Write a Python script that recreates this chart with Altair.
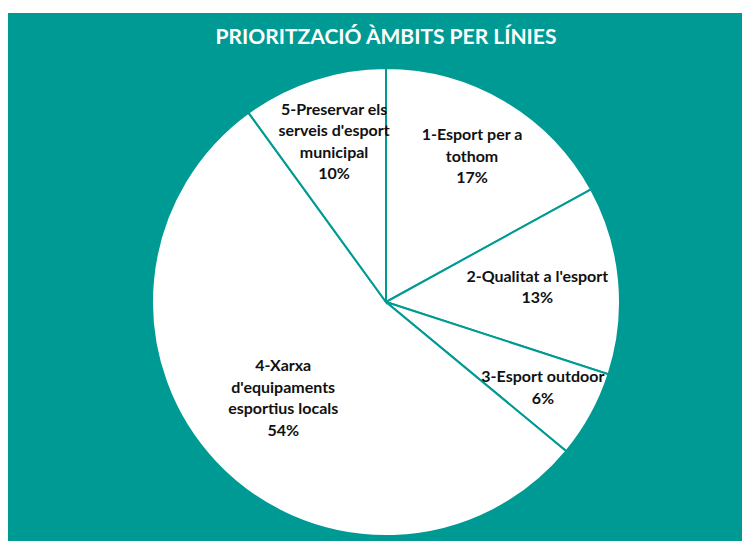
import altair as alt
import pandas as pd
import math

# ---- data ----
labels = [
    "1-Esport per a\ntothom",
    "2-Qualitat a l'esport",
    "3-Esport outdoor",
    "4-Xarxa\nd'equipaments\nesportius locals",
    "5-Preservar els\nserveis d'esport\nmunicipal",
]
values = [17, 13, 6, 54, 10]
title_text = "PRIORITZACIÓ ÀMBITS PER LÍNIES"

# ---- layout (not data) ----
label_radius = [169, 152, 179, 141, 168]
TEAL = "#009A94"
CX, CY, R = 378, 289, 234
LH = 21.5

df = pd.DataFrame({
    "label": labels,
    "value": values,
    "idx": list(range(len(labels))),
    "r": label_radius,
})
df["text"] = df["label"] + "\n" + df["value"].astype(str) + "%"
df["nlines"] = df["text"].str.count("\n") + 1

theta_scale = alt.Scale(domain=[0, 1], range=[0, 2 * math.pi])

base = alt.Chart(df).transform_joinaggregate(
    total="sum(value)"
).transform_window(
    cum="sum(value)", sort=[alt.SortField("idx", order="ascending")],
    frame=[None, 0],
).transform_calculate(
    start="(datum.cum - datum.value) / datum.total",
    end="datum.cum / datum.total",
    mid="(datum.cum - datum.value / 2) / datum.total",
)

pie = base.mark_arc(
    outerRadius=R, fill="white", stroke=TEAL, strokeWidth=2
).encode(
    theta=alt.Theta("start:Q", scale=theta_scale),
    theta2="end:Q",
    x=alt.value(CX), y=alt.value(CY),
)

txt = base.transform_calculate(
    px=f"{CX} + datum.r * sin(2 * PI * datum.mid)",
    py=f"{CY} - datum.r * cos(2 * PI * datum.mid) - (datum.nlines - 1) * {LH} / 2",
).mark_text(
    font="Lato", fontWeight="bold", fontSize=16, color="#111111",
    lineBreak="\n", lineHeight=LH, align="center", baseline="middle",
).encode(
    text="text:N",
    x=alt.X("px:Q", scale=None),
    y=alt.Y("py:Q", scale=None),
)

title = alt.Chart(pd.DataFrame({"t": [title_text]})).mark_text(
    font="Lato", fontWeight="bold", fontSize=21, color="white",
    align="center", baseline="middle",
).encode(text="t:N", x=alt.value(CX), y=alt.value(25))

chart = alt.layer(pie, txt, title).properties(
    width=734, height=528,
    autosize=alt.AutoSizeParams(type="none"),
    padding={"top": 5, "left": 0, "right": 0, "bottom": 0},
    background="white",
).configure_view(fill=TEAL, strokeWidth=0)

chart.save("out.html", embed_options={"renderer": "svg", "actions": False})
